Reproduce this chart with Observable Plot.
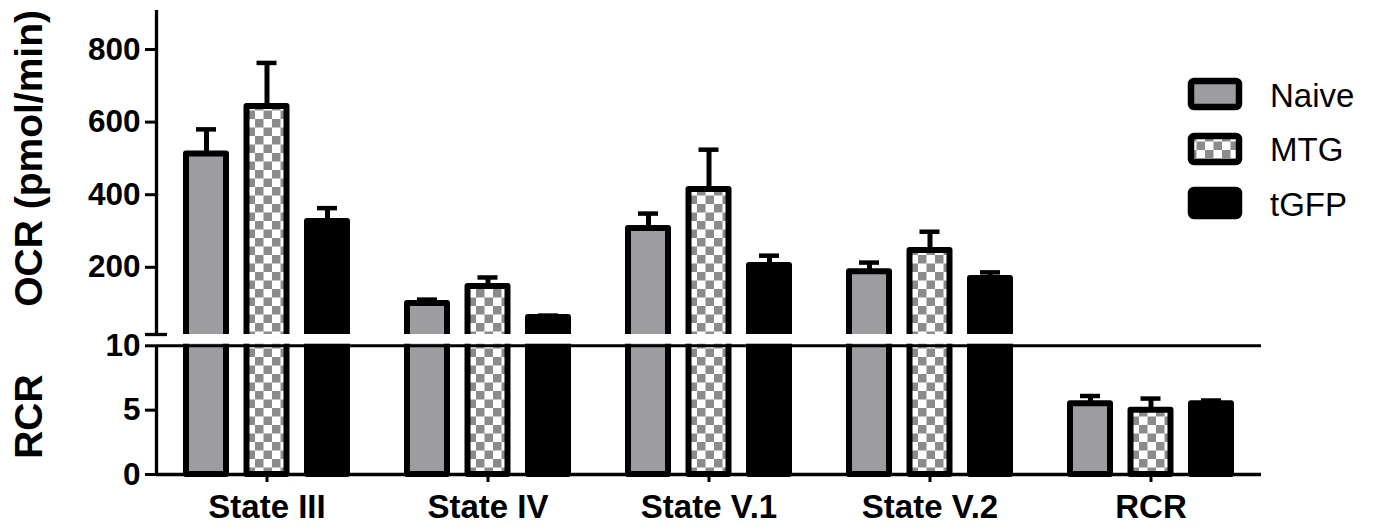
<!DOCTYPE html>
<html>
<head>
<meta charset="utf-8">
<script src="https://cdn.jsdelivr.net/npm/d3@7"></script>
<script src="https://cdn.jsdelivr.net/npm/@observablehq/plot@0.6"></script>
<style>
  html, body { margin: 0; padding: 0; background: #fff; }
  #wrap { position: relative; width: 1376px; height: 531px; overflow: hidden; }
  #legend { position: absolute; left: 1188px; top: 67px; font-family: "Liberation Sans", Arial, sans-serif; font-size: 33px; color: #000; }
  #legend .row { display: flex; align-items: center; height: 54.5px; margin-top: 0; }
  #legend .row span { margin-left: 28px; line-height: 1; position: relative; top: 1px; }
</style>
</head>
<body>
<svg width="0" height="0" style="position:absolute">
  <defs>
    <pattern id="checker" patternUnits="userSpaceOnUse" width="17" height="17">
      <rect x="0" y="0" width="17" height="17" fill="#ffffff"></rect>
      <rect x="0" y="0" width="8.5" height="8.5" fill="#8b8b8d"></rect>
      <rect x="8.5" y="8.5" width="8.5" height="8.5" fill="#8b8b8d"></rect>
    </pattern>
  </defs>
</svg>
<div id="wrap"></div>
<script>
// ---- data ----
const categories = ["State III", "State IV", "State V.1", "State V.2", "RCR"];
const groups = ["Naive", "MTG", "tGFP"];
const naiveMean = [512, 100, 307, 188, 5.5];
const naiveSem  = [68, 11, 41, 25, 0.6];
const mtgMean   = [643, 147, 414, 246, 5.0];
const mtgSem    = [120, 25, 110, 52, 0.9];
const tgfpMean  = [326, 62, 205, 169, 5.5];
const tgfpSem   = [37, 5, 27, 17, 0.25];
const ocrTicks = [200, 400, 600, 800];
const rcrTicks = [0, 5, 10];
const groupFills = ["#9d9da1", "url(#checker)", "#000000"];

// ---- broken y axis: lower segment RCR 0..10, upper segment OCR ----
const RCR_K = 12.87;       // units per RCR unit
const OCR_U0 = 134.6;      // offset of OCR segment
const OCR_K = 0.363;       // units per pmol/min
const GAP_LO = RCR_K * 10 + 1.6;
const GAP_HI = 140;
const Y_TOP = 464;
const ub = (v, cat) => cat === "RCR" ? v * RCR_K : OCR_U0 + v * OCR_K;

// ---- table ----
const means = [naiveMean, mtgMean, tgfpMean];
const sems = [naiveSem, mtgSem, tgfpSem];
const rows = categories.flatMap((cat, i) => groups.map((grp, g) => ({
  cat, i, g, grp, mean: means[g][i], sem: sems[g][i]
})));

const GROUP_STEP = 60.5 / 221;
const HALF_W = 20 / 221;
const CAP = 10 / 221;
const cx = d => d.i + 0.5 + (d.g - 1) * GROUP_STEP;

const yTickLabels = new Map([
  ...ocrTicks.map(v => [ub(v, "OCR"), String(v)]),
  ...rcrTicks.map(v => [ub(v, "RCR"), String(v)])
]);
const yTicks = [...yTickLabels.keys()];
const yTitles = [
  {label: "OCR (pmol/min)", u: ub(500, "OCR")},
  {label: "RCR", u: ub(4.5, "RCR")}
];
const font = "'Liberation Sans', Arial, Helvetica, sans-serif";

const chart = Plot.plot({
  width: 1376,
  height: 531,
  marginLeft: 156,
  marginRight: 115,
  marginTop: 10,
  marginBottom: 57,
  style: {fontFamily: font, background: "white", overflow: "visible", color: "#000"},
  x: {domain: [0, 5]},
  y: {domain: [0, Y_TOP]},
  color: {domain: groups, range: groupFills},
  marks: [
    // bars
    Plot.rectY(rows, {
      x1: d => cx(d) - HALF_W, x2: d => cx(d) + HALF_W,
      y1: 0, y2: d => ub(d.mean, d.cat),
      fill: "grp", stroke: "#000", strokeWidth: 6, strokeLinejoin: "round"
    }),
    // error bars (upper only)
    Plot.ruleX(rows, {
      x: cx, y1: d => ub(d.mean, d.cat), y2: d => ub(d.mean + d.sem, d.cat),
      stroke: "#000", strokeWidth: 5
    }),
    Plot.ruleY(rows, {
      y: d => ub(d.mean + d.sem, d.cat),
      x1: d => cx(d) - CAP, x2: d => cx(d) + CAP,
      stroke: "#000", strokeWidth: 4.5
    }),
    // axis break gap
    Plot.rectY([GAP_LO], {x1: 0, x2: 5, y1: GAP_LO, y2: GAP_HI, fill: "#fff"}),
    // RCR = 10 line and baseline
    Plot.ruleY([ub(10, "RCR")], {x1: 0, x2: 5, stroke: "#000", strokeWidth: 3}),
    Plot.ruleY([0], {x1: 0, x2: 5, stroke: "#000", strokeWidth: 3.5}),
    // y axis line in two segments
    Plot.ruleX([[0, ub(10, "RCR")], [GAP_HI, Y_TOP]], {x: () => 0, y1: d => d[0], y2: d => d[1], stroke: "#000", strokeWidth: 3.3}),
    // break mark
    Plot.ruleY([GAP_HI], {x1: -0.05, x2: 0.05, stroke: "#000", strokeWidth: 3.3}),
    // axes
    Plot.axisY(yTicks, {
      tickFormat: d => yTickLabels.get(d), tickSize: 11, tickPadding: 5,
      fontSize: 31.5, fontWeight: "bold", strokeWidth: 3, label: null
    }),
    Plot.axisX(categories.map((c, i) => i + 0.5), {
      tickFormat: d => categories[Math.floor(d)], tickSize: 8, tickPadding: 12,
      fontSize: 33, fontWeight: "bold", strokeWidth: 3, label: null
    }),
    // axis titles
    Plot.text(yTitles, {
      y: "u", text: "label", frameAnchor: "left", textAnchor: "middle", dx: -127, rotate: -90,
      fontSize: 39, fontWeight: "bold", fill: "#000"
    })
  ]
});
document.getElementById("wrap").appendChild(chart);

// legend
const legend = document.createElement("div");
legend.id = "legend";
groups.forEach((g, k) => {
  const row = document.createElement("div");
  row.className = "row";
  row.innerHTML = `<svg width="54" height="32" style="display:block;overflow:visible"><rect x="3" y="3" width="48" height="26" rx="3" ry="3" fill="${groupFills[k]}" stroke="#000" stroke-width="6.5"></rect></svg><span>${g}</span>`;
  legend.appendChild(row);
});
document.getElementById("wrap").appendChild(legend);
</script>
</body>
</html>
